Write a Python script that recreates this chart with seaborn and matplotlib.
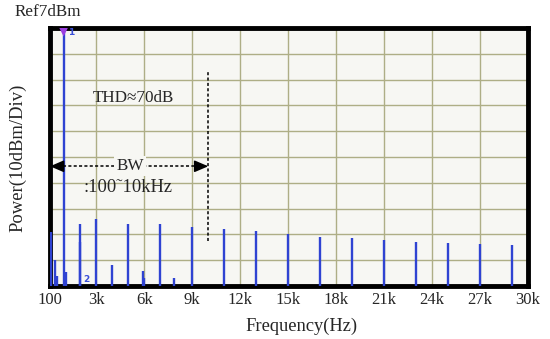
import numpy as np
import pandas as pd
import matplotlib
matplotlib.use("Agg")
import matplotlib.pyplot as plt
import seaborn as sns

# spectrum lines
freq_hz = [150, 420, 520, 950, 1080, 1950, 2000, 3000, 4000, 5000, 5900, 5950,
           7000, 7850, 9000, 11000, 13000, 15000, 17000, 19000, 21000, 23000,
           25000, 27000, 29000]
level_dbm = [-72, -83, -89, 5.6, -87.5, -76, -69, -67, -85, -69, -87, -90,
             -69, -90, -70, -71, -71.5, -73, -74, -74.3, -75, -76,
             -76.3, -76.8, -77.2]

x_ticks = [100, 3000, 6000, 9000, 12000, 15000, 18000, 21000, 24000, 27000, 30000]
x_ticklabels = ["100", "3k", "6k", "9k", "12k", "15k", "18k", "21k", "24k", "27k", "30k"]
ref_level = 7
db_per_div = 10
n_div = 10

sns.set_theme(style="white")
serif = ["Liberation Serif", "DejaVu Serif"]
plt.rcParams["font.family"] = serif

fig = plt.figure(figsize=(5.5, 3.39), dpi=100)
ax = fig.add_axes([50 / 550, 53 / 339, 478 / 550, 258 / 339])
bg = "#f7f7f3"
ax.set_facecolor(bg)

bottom = ref_level - db_per_div * n_div
ax.set_xlim(100, 30000)
ax.set_ylim(bottom, ref_level)

# screen grid
for x in x_ticks[1:-1]:
    ax.axvline(x, color="#aeae86", lw=1.0, zorder=1)
for y in np.arange(bottom + db_per_div, ref_level, db_per_div):
    ax.axhline(y, color="#aeae86", lw=1.0, zorder=1)

df = pd.DataFrame({"freq": freq_hz, "level": level_dbm})
ax.vlines(df["freq"], bottom, df["level"], color="#2f43d2", lw=1.7, zorder=3)

# marker 1 on the fundamental
peak = df.loc[[df["level"].idxmax()]]
sns.scatterplot(data=peak, x="freq", y="level", marker="v", s=50,
                color="#9b3fe0", edgecolor="none", ax=ax, zorder=4, legend=False)
ax.text(peak["freq"].iloc[0] + 250, peak["level"].iloc[0] - 0.5, "1",
        color="#3a4fd8", fontsize=6.5, fontweight="bold", family="DejaVu Sans",
        va="center", zorder=4)
ax.text(2200, -90.5, "2", color="#3a4fd8", fontsize=6.5, fontweight="bold",
        family="DejaVu Sans", va="center", zorder=4)

# annotations
ax.text(5300, -20, "THD\u224870dB", fontsize=12.3, ha="center", va="center", zorder=5)
ax.vlines(10000, -75.5, -10, color="black", lw=1.1, linestyles=(0, (2, 1.5)), zorder=5)
bw_y = -46.6
ax.hlines(bw_y, 900, 9300, color="black", lw=1.1, linestyles=(0, (2, 1.5)), zorder=5)
ax.annotate("", xy=(100, bw_y), xytext=(900, bw_y),
            arrowprops=dict(arrowstyle="-|>,head_length=0.7,head_width=0.3",
                            color="black", lw=1.1, shrinkA=0, shrinkB=0), zorder=6)
ax.annotate("", xy=(10000, bw_y), xytext=(9200, bw_y),
            arrowprops=dict(arrowstyle="-|>,head_length=0.7,head_width=0.3",
                            color="black", lw=1.1, shrinkA=0, shrinkB=0), zorder=6)
ax.text(5100, bw_y, "BW", fontsize=12.3, ha="center", va="center", zorder=7,
        bbox=dict(facecolor=bg, edgecolor="none", pad=1.5))
ax.text(5000, -55, ":100\u02dc10kHz", fontsize=13.3, ha="center", va="center", zorder=7)

ax.set_xticks(x_ticks)
ax.set_xticklabels(x_ticklabels, fontsize=12)
ax.set_yticks([])
ax.tick_params(axis="x", length=0, pad=4)
for sp in ax.spines.values():
    sp.set_visible(True)
    sp.set_color("black")
    sp.set_linewidth(3.5)

ax.set_xlabel("Frequency(Hz)", fontsize=13.3, va="center")
ax.xaxis.set_label_coords(0.527, -0.155)
ax.set_ylabel("Power(10dBm/Div)", fontsize=13.4, va="center", ha="center")
ax.yaxis.set_label_coords(-0.067, 0.496)
fig.text(15 / 550, 1 - 12 / 339, "Ref7dBm", fontsize=12.3, ha="left", va="center")

fig.savefig("out.png", dpi=100, facecolor="white")
